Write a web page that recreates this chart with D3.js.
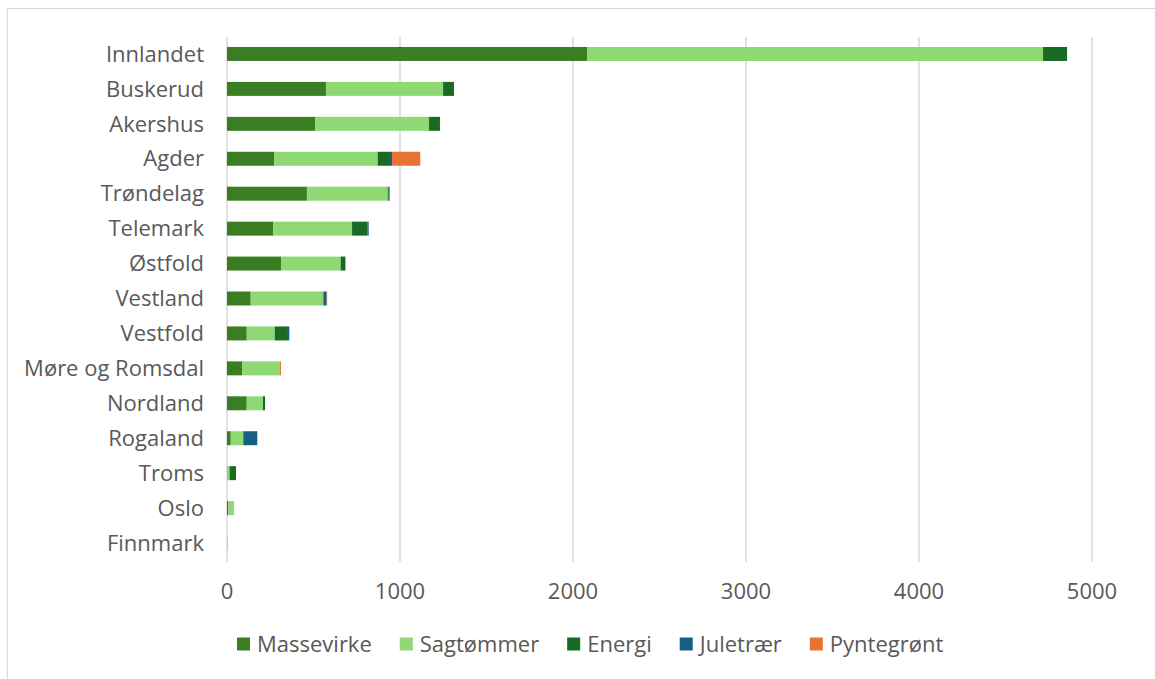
<!DOCTYPE html>
<meta charset="utf-8">
<script src="https://cdn.jsdelivr.net/npm/d3@7"></script>
<style>
body { margin: 0; background: #fff; }
text { font-family: "Open Sans", sans-serif; fill: #595959; }
.grid line { stroke: #d9d9d9; stroke-width: 1.5px; }
</style>
<body>
<script>

// fylker, top to bottom
var regions = ["Innlandet", "Buskerud", "Akershus", "Agder", "Trøndelag", "Telemark",
  "Østfold", "Vestland", "Vestfold", "Møre og Romsdal", "Nordland", "Rogaland",
  "Troms", "Oslo", "Finnmark"];

var seriesNames = ["Massevirke", "Sagtømmer", "Energi", "Juletrær", "Pyntegrønt"];
var colors = ["#3b7d23", "#8ed973", "#196b24", "#156082", "#e97132"];

// values
var massevirke = [2081, 572, 509, 272, 462, 268, 312, 137, 114, 87, 114, 22, 0, 8, 0];
var sagtommer  = [2636, 677, 659, 599, 467, 455, 345, 420, 162, 218, 94, 72, 15, 32, 3];
var energi     = [139, 63, 63, 71, 6, 90, 27, 0, 71, 0, 12, 4, 37, 0, 0];
var juletraer  = [0, 0, 0, 12, 5, 6, 0, 19, 13, 0, 0, 77, 0, 0, 0];
var pyntegront = [0, 0, 0, 163, 0, 0, 2, 3, 0, 7, 0, 0, 0, 0, 0];

var xTicks = [0, 1000, 2000, 3000, 4000, 5000];

var width = 1155, height = 679;

var rows = regions.map(function(r, i) {
  return { region: r, Massevirke: massevirke[i], "Sagtømmer": sagtommer[i],
    Energi: energi[i], "Juletrær": juletraer[i], "Pyntegrønt": pyntegront[i] };
});

var stack = d3.stack().keys(seriesNames)(rows);

var x = d3.scaleLinear().domain([0, 5000]).range([227, 1092]);
var y = d3.scaleBand().domain(regions).range([36.5, 560.5])
    .paddingInner(0.6).paddingOuter(0.3);
var color = d3.scaleOrdinal().domain(seriesNames).range(colors);

var svg = d3.select("body").append("svg")
    .attr("width", width)
    .attr("height", height);

// chart border
svg.append("rect")
    .attr("x", 7.5).attr("y", 8.5)
    .attr("width", 1160).attr("height", 690)
    .attr("fill", "none")
    .attr("stroke", "#d9d9d9")
    .attr("stroke-width", 1.2);

// gridlines
svg.append("g")
    .attr("class", "grid")
    .selectAll("line")
    .data(xTicks)
    .enter().append("line")
    .attr("x1", function(d) { return x(d); })
    .attr("x2", function(d) { return x(d); })
    .attr("y1", 37)
    .attr("y2", 562);

// bars
svg.append("g")
    .selectAll("g")
    .data(stack)
    .enter().append("g")
    .attr("fill", function(d) { return color(d.key); })
    .selectAll("rect")
    .data(function(d) { return d; })
    .enter().append("rect")
    .attr("x", function(d) { return x(d[0]); })
    .attr("y", function(d) { return y(d.data.region); })
    .attr("width", function(d) { return x(d[1]) - x(d[0]); })
    .attr("height", y.bandwidth());

// x tick labels
svg.append("g")
    .selectAll("text")
    .data(xTicks)
    .enter().append("text")
    .attr("x", function(d) { return x(d); })
    .attr("y", 591)
    .attr("dy", "0.35em")
    .attr("text-anchor", "middle")
    .style("font-size", "22px")
    .text(function(d) { return d; });

// category labels
svg.append("g")
    .selectAll("text")
    .data(regions)
    .enter().append("text")
    .attr("x", 204)
    .attr("y", function(d) { return y(d) + y.bandwidth() / 2; })
    .attr("dy", "0.35em")
    .attr("text-anchor", "end")
    .style("font-size", "22px")
    .text(function(d) { return d; });

// legend
var legend = svg.append("g");
var items = legend.selectAll("g")
    .data(seriesNames)
    .enter().append("g");
items.append("rect")
    .attr("width", 13).attr("height", 13)
    .attr("y", 637.5)
    .attr("fill", function(d) { return color(d); });
items.append("text")
    .attr("x", 20)
    .attr("y", 644)
    .attr("dy", "0.35em")
    .style("font-size", "22px")
    .text(function(d) { return d; });

var pos = 237;
items.each(function() {
  var g = d3.select(this);
  g.attr("transform", "translate(" + pos + ",0)");
  pos += 20 + g.select("text").node().getComputedTextLength() + 28;
});

</script>
</body>
</html>
